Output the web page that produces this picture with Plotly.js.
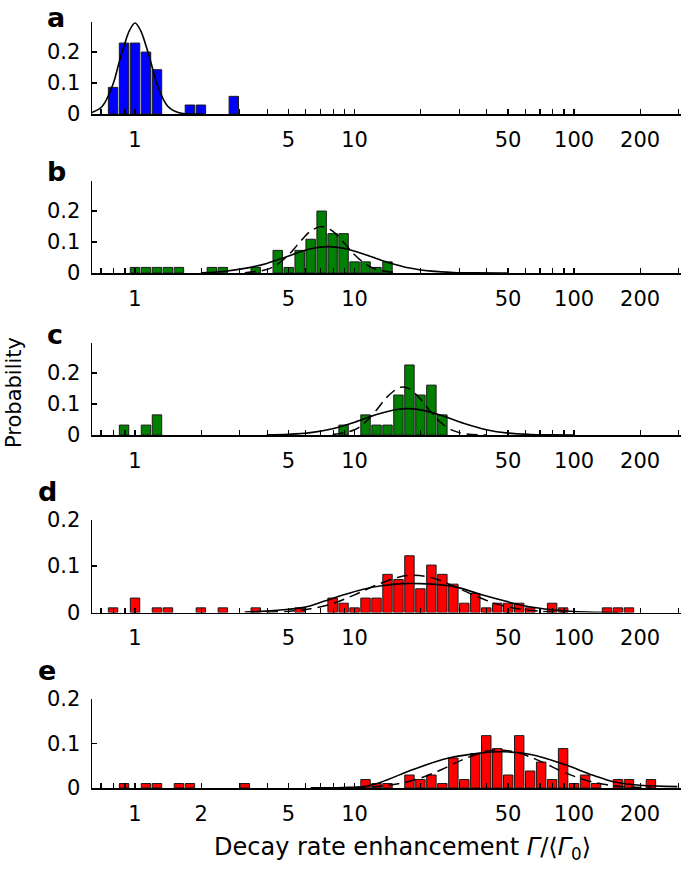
<!DOCTYPE html>
<html><head><meta charset="utf-8">
<script src="https://cdn.plot.ly/plotly-3.0.1.min.js"></script>
<style>html,body{margin:0;padding:0;background:#fff}#chart{width:685px;height:873px}</style>
</head><body><div id="chart"></div>
<script>
// Histogram bins: centres given as log10(decay rate enhancement), probability per bin
const aBinLog = [-0.1, -0.05, 0, 0.05, 0.1, 0.25, 0.3, 0.45];
const aProb   = [0.086, 0.229, 0.229, 0.2, 0.143, 0.029, 0.029, 0.057];

const bBinLog = [0, 0.05, 0.1, 0.15, 0.2, 0.35, 0.4, 0.55, 0.65, 0.7, 0.75, 0.8, 0.85, 0.9, 0.95, 1.0, 1.05, 1.1, 1.15];
const bProb   = [0.018, 0.018, 0.018, 0.018, 0.018, 0.018, 0.018, 0.018, 0.073, 0.018, 0.073, 0.109, 0.2, 0.127, 0.127, 0.036, 0.036, 0.018, 0.036];

const cBinLog = [-0.05, 0.05, 0.1, 0.95, 1.05, 1.1, 1.15, 1.2, 1.25, 1.3, 1.35, 1.4];
const cProb   = [0.032, 0.032, 0.065, 0.032, 0.065, 0.032, 0.032, 0.129, 0.226, 0.129, 0.161, 0.065];

const dBinLog = [-0.1, 0, 0.1, 0.15, 0.3, 0.4, 0.55, 0.75, 0.9, 0.95, 1.0, 1.05, 1.1, 1.15, 1.2, 1.25, 1.3, 1.35, 1.4, 1.45, 1.5, 1.55, 1.6, 1.65, 1.7, 1.75, 1.8, 1.9, 1.95, 2.15, 2.2, 2.25];
const dProb   = [0.01, 0.031, 0.01, 0.01, 0.01, 0.01, 0.01, 0.01, 0.031, 0.02, 0.01, 0.031, 0.031, 0.082, 0.071, 0.122, 0.051, 0.102, 0.082, 0.061, 0.02, 0.041, 0.01, 0.02, 0.02, 0.02, 0.01, 0.02, 0.01, 0.01, 0.01, 0.01];

const eBinLog = [-0.05, 0.05, 0.1, 0.2, 0.25, 0.5, 1.05, 1.1, 1.15, 1.25, 1.3, 1.35, 1.4, 1.45, 1.5, 1.55, 1.6, 1.65, 1.7, 1.75, 1.8, 1.85, 1.9, 1.95, 2.0, 2.05, 2.1, 2.2, 2.25, 2.35];
const eProb   = [0.01, 0.01, 0.01, 0.01, 0.01, 0.01, 0.019, 0.01, 0.01, 0.029, 0.019, 0.029, 0.01, 0.067, 0.019, 0.077, 0.117, 0.088, 0.029, 0.117, 0.038, 0.058, 0.019, 0.088, 0.01, 0.029, 0.01, 0.019, 0.019, 0.019];

// Fitted curves (x as log10 of enhancement)
const aFitLog = [-0.2, -0.15, -0.1, -0.075, -0.05, -0.025, 0, 0.025, 0.05, 0.075, 0.1, 0.15, 0.2, 0.3];
const aFit    = [0.004, 0.024, 0.097, 0.16, 0.22, 0.27, 0.294, 0.27, 0.22, 0.16, 0.097, 0.024, 0.004, 0.0];

const bFitLog = [0.3, 0.4, 0.5, 0.6, 0.7, 0.8, 0.88, 0.95, 1.05, 1.15, 1.25, 1.35, 1.45, 1.55, 1.7];
const bFit    = [0.001, 0.005, 0.015, 0.031, 0.055, 0.078, 0.085, 0.08, 0.059, 0.035, 0.016, 0.006, 0.0017, 0.0003, 0];
const bDashLog = [0.5, 0.6, 0.65, 0.7, 0.75, 0.8, 0.85, 0.9, 0.95, 1.0, 1.05, 1.1, 1.2];
const bDash    = [0.001, 0.011, 0.029, 0.059, 0.099, 0.135, 0.15, 0.135, 0.099, 0.059, 0.029, 0.011, 0.001];

const cFitLog = [0.6, 0.7, 0.8, 0.9, 1.0, 1.1, 1.2, 1.24, 1.3, 1.4, 1.5, 1.6, 1.7, 1.8, 1.9, 2.0];
const cFit    = [0.0005, 0.0022, 0.0076, 0.02, 0.041, 0.066, 0.083, 0.085, 0.081, 0.062, 0.037, 0.017, 0.006, 0.0017, 0.0004, 0];
const cDashLog = [0.9, 1.0, 1.05, 1.1, 1.15, 1.2, 1.22, 1.25, 1.3, 1.35, 1.4, 1.45, 1.5, 1.6];
const cDash    = [0.0015, 0.017, 0.042, 0.081, 0.124, 0.152, 0.155, 0.149, 0.116, 0.072, 0.036, 0.014, 0.0044, 0.0002];

const dFitLog = [0.5, 0.6, 0.7, 0.77, 0.86, 0.95, 1.04, 1.13, 1.22, 1.3, 1.4, 1.47, 1.58, 1.69, 1.79, 1.9, 2.0, 2.1, 2.2];
const dFit    = [0.001, 0.003, 0.007, 0.011, 0.024, 0.038, 0.05, 0.058, 0.062, 0.062, 0.059, 0.054, 0.038, 0.024, 0.013, 0.006, 0.002, 0.0005, 0.0001];
const dDashLog = [0.6, 0.7, 0.8, 0.9, 1.0, 1.1, 1.2, 1.27, 1.35, 1.45, 1.55, 1.65, 1.75, 1.85, 1.95];
const dDash    = [0.0008, 0.0028, 0.008, 0.019, 0.038, 0.059, 0.076, 0.08, 0.075, 0.057, 0.036, 0.018, 0.0074, 0.0025, 0.0007];

const eFitLog = [0.8, 0.95, 1.05, 1.12, 1.27, 1.42, 1.57, 1.68, 1.79, 1.88, 1.97, 2.09, 2.18, 2.3, 2.47];
const eFit    = [0.0002, 0.001, 0.004, 0.013, 0.042, 0.066, 0.078, 0.081, 0.076, 0.065, 0.05, 0.028, 0.014, 0.006, 0.003];
const eDashLog = [1.0, 1.1, 1.2, 1.3, 1.4, 1.5, 1.6, 1.66, 1.75, 1.85, 1.95, 2.05, 2.15, 2.25, 2.35];
const eDash    = [0.0009, 0.0033, 0.0095, 0.022, 0.042, 0.065, 0.082, 0.085, 0.078, 0.059, 0.036, 0.018, 0.0071, 0.0023, 0.0007];

// Axis ticks (enhancement values) and labels
const xMinorTickNumbers = [0.7, 0.8, 0.9, 1, 2, 3, 4, 5, 6, 7, 8, 9, 10, 20, 30, 40, 50, 60, 70, 80, 90, 100, 200, 300];
const xTickNumbers  = [1, 5, 10, 50, 100, 200];
const xTickLabels   = ['1', '5', '10', '50', '100', '200'];
const xTickNumbersE = [1, 2, 5, 10, 50, 100, 200];
const xTickLabelsE  = ['1', '2', '5', '10', '50', '100', '200'];
const yTickValues  = [0, 0.1, 0.2];
const yTickLabels  = ['0', '0.1', '0.2'];
const panelLetters = ['a', 'b', 'c', 'd', 'e'];

const FONT = 'DejaVu Sans, Liberation Sans, Arial, sans-serif';
const W = 685, H = 873;

const panels = [
  {bx: aBinLog, by: aProb, color: '#0000FF', fx: aFitLog, fy: aFit, dx: null, dy: null, top: 22, base: 114, ymax: 0.297, ticks: xTickNumbers, labels: xTickLabels},
  {bx: bBinLog, by: bProb, color: '#008000', fx: bFitLog, fy: bFit, dx: bDashLog, dy: bDash, top: 181, base: 273, ymax: 0.297, ticks: xTickNumbers, labels: xTickLabels},
  {bx: cBinLog, by: cProb, color: '#008000', fx: cFitLog, fy: cFit, dx: cDashLog, dy: cDash, top: 343, base: 435, ymax: 0.297, ticks: xTickNumbers, labels: xTickLabels},
  {bx: dBinLog, by: dProb, color: '#FF0000', fx: dFitLog, fy: dFit, dx: dDashLog, dy: dDash, top: 519.5, base: 612.5, ymax: 0.2, ticks: xTickNumbers, labels: xTickLabels},
  {bx: eBinLog, by: eProb, color: '#FF0000', fx: eFitLog, fy: eFit, dx: eDashLog, dy: eDash, top: 698.5, base: 788, ymax: 0.2, ticks: xTickNumbersE, labels: xTickLabelsE}
];
const letterPos = [[45, 17], [45, 172], [45, 334], [36, 491], [36, 670]];

const minorVals = xMinorTickNumbers.map(v => Math.log10(v));
const traces = [];
const layout = {
  width: W, height: H, margin: {l: 0, r: 0, t: 0, b: 0},
  paper_bgcolor: '#fff', plot_bgcolor: 'rgba(0,0,0,0)',
  showlegend: false, barmode: 'overlay',
  font: {family: FONT, color: '#000', size: 21},
  annotations: []
};

panels.forEach((p, i) => {
  const n = i === 0 ? '' : String(i + 1);
  const xa = 'x' + n, ya = 'y' + n;
  traces.push({type: 'bar', x: p.bx, y: p.by, width: 0.043, xaxis: xa, yaxis: ya,
    marker: {color: p.color, line: {color: '#1a1a1a', width: 1}}, hoverinfo: 'skip'});
  if (p.dx) traces.push({type: 'scatter', mode: 'lines', x: p.dx, y: p.dy, xaxis: xa, yaxis: ya,
    line: {color: '#000', width: 1.5, dash: '11px,6px', shape: 'spline', smoothing: 1}, hoverinfo: 'skip'});
  traces.push({type: 'scatter', mode: 'lines', x: p.fx, y: p.fy, xaxis: xa, yaxis: ya,
    line: {color: '#000', width: 1.6, shape: 'spline', smoothing: 1}, hoverinfo: 'skip'});

  layout['xaxis' + n] = {
    domain: [92 / W, 681 / W], range: [-0.196, 2.487], anchor: ya,
    tickmode: 'array', tickvals: p.ticks.map(v => Math.log10(v)), ticktext: p.labels,
    ticks: 'inside', ticklen: 5, tickwidth: 1.2, tickcolor: '#000',
    minor: {tickmode: 'array', tickvals: minorVals, ticks: 'inside', ticklen: 5, tickwidth: 1.2, tickcolor: '#000', showgrid: false},
    showline: true, linewidth: 1.5, linecolor: '#000',
    showgrid: false, zeroline: false, ticklabelstandoff: 6,
    tickfont: {family: FONT, size: 21, color: '#000'}
  };
  layout['yaxis' + n] = {
    domain: [1 - p.base / H, 1 - p.top / H], range: [0, p.ymax], anchor: xa,
    tickmode: 'array', tickvals: yTickValues, ticktext: yTickLabels,
    ticks: 'inside', ticklen: 5, tickwidth: 1.2, tickcolor: '#000',
    showline: true, linewidth: 1.5, linecolor: '#000',
    showgrid: false, zeroline: false, ticklabelstandoff: 6,
    tickfont: {family: FONT, size: 21, color: '#000'}
  };
  layout.annotations.push({text: '<b>' + panelLetters[i] + '</b>', xref: 'paper', yref: 'paper',
    x: letterPos[i][0] / W, y: 1 - letterPos[i][1] / H, xanchor: 'left', yanchor: 'middle',
    showarrow: false, font: {family: FONT, size: 27, color: '#000'}});
});

layout.annotations.push({text: 'Probability', textangle: -90, xref: 'paper', yref: 'paper',
  x: 14 / W, y: 1 - 393 / H, xanchor: 'center', yanchor: 'middle', showarrow: false,
  font: {family: FONT, size: 21, color: '#000'}});
layout.annotations.push({text: 'Decay rate enhancement <i>Γ</i>/⟨<i>Γ</i><sub>0</sub>⟩', xref: 'paper', yref: 'paper',
  x: 402 / W, y: 1 - 848 / H, xanchor: 'center', yanchor: 'middle', showarrow: false,
  font: {family: FONT, size: 24, color: '#000'}});

Plotly.newPlot('chart', traces, layout, {staticPlot: true, displayModeBar: false});
</script>
</body></html>
